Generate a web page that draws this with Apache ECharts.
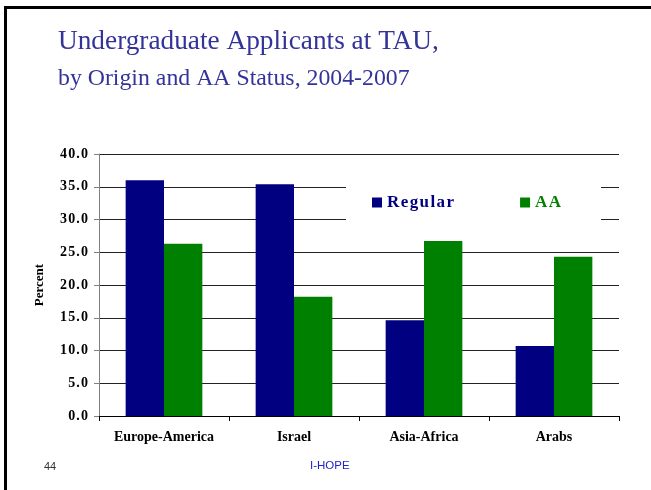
<!DOCTYPE html>
<html>
<head>
<meta charset="utf-8">
<script src="https://cdn.jsdelivr.net/npm/echarts@6/dist/echarts.min.js"></script>
<style>
  html, body { margin:0; padding:0; background:#fff; }
  #main { width:651px; height:490px; }
</style>
</head>
<body>
<div id="main"></div>
<script>
const categories = ['Europe-America', 'Israel', 'Asia-Africa', 'Arabs'];
const regular = [36.0, 35.4, 14.6, 10.7];
const aa = [26.3, 18.2, 26.7, 24.3];

const serif = '"Liberation Serif", "DejaVu Serif", serif';
const sans = '"Liberation Sans", Arial, sans-serif';

// spread the letters a little, like the PowerPoint rendering
function spaced(s) { return String(s).split('').join('\u200a'); }

const myChart = echarts.init(document.getElementById('main'), null, { renderer: 'canvas' });

const option = {
  backgroundColor: '#fff',
  animation: false,
  graphic: [
    // slide frame (top + left edge)
    { type: 'rect', shape: { x: 4, y: 6, width: 660, height: 3 }, style: { fill: '#000' } },
    { type: 'rect', shape: { x: 4, y: 6, width: 3, height: 500 }, style: { fill: '#000' } },
    { type: 'text', left: 58, top: 28, style: { text: 'Undergraduate Applicants at TAU,', font: '27.3px ' + serif, fill: '#333399' } },
    { type: 'text', left: 58, top: 67, style: { text: 'by Origin and AA Status, 2004-2007', font: '23.8px ' + serif, fill: '#333399' } },
    { type: 'text', left: 44, top: 461, style: { text: '44', font: '11px ' + sans, fill: '#333' } },
    { type: 'text', left: 310, top: 460, style: { text: 'I-HOPE', font: '11.5px ' + sans, fill: '#2222cc' } },
    // white box behind the legend, hides the grid lines there
    { type: 'rect', z: 10, shape: { x: 346, y: 162, width: 255, height: 72 }, style: { fill: '#fff' } }
  ],
  grid: { left: 99, right: 32, top: 154, bottom: 74 },
  legend: {
    left: 372, top: 194,
    z: 20,
    padding: 0,
    itemWidth: 10, itemHeight: 10, itemGap: 66,
    icon: 'rect',
    data: [
      { name: 'Regular', textStyle: { color: '#000080' } },
      { name: 'AA', textStyle: { color: '#008000' } }
    ],
    textStyle: { fontFamily: serif, fontWeight: 'bold', fontSize: 17 },
    formatter: function (n) { return spaced(n); }
  },
  xAxis: {
    type: 'category',
    data: categories,
    axisLine: { lineStyle: { color: '#000', width: 1 } },
    axisTick: { show: true, interval: 0, length: 5, lineStyle: { color: '#000' } },
    axisLabel: { interval: 0, fontFamily: serif, fontWeight: 'bold', fontSize: 14, color: '#000', margin: 14 }
  },
  yAxis: {
    type: 'value',
    min: 0, max: 40, interval: 5,
    name: 'Percent',
    nameLocation: 'middle',
    nameGap: 53,
    nameTextStyle: { fontFamily: serif, fontWeight: 'bold', fontSize: 13, color: '#000' },
    axisLine: { show: true, lineStyle: { color: '#808080' } },
    axisTick: { show: true, length: 5, lineStyle: { color: '#808080' } },
    axisLabel: { fontFamily: serif, fontWeight: 'bold', fontSize: 14, color: '#000', margin: 11,
      formatter: function (v) { return spaced(v.toFixed(1)); } },
    splitLine: { lineStyle: { color: '#222', width: 1 } }
  },
  series: [
    { name: 'Regular', type: 'bar', data: regular, barGap: '0%', barCategoryGap: '41%',
      itemStyle: { color: '#000080' } },
    { name: 'AA', type: 'bar', data: aa, barGap: '0%', barCategoryGap: '41%',
      itemStyle: { color: '#008000' } }
  ]
};

myChart.setOption(option);
</script>
</body>
</html>
